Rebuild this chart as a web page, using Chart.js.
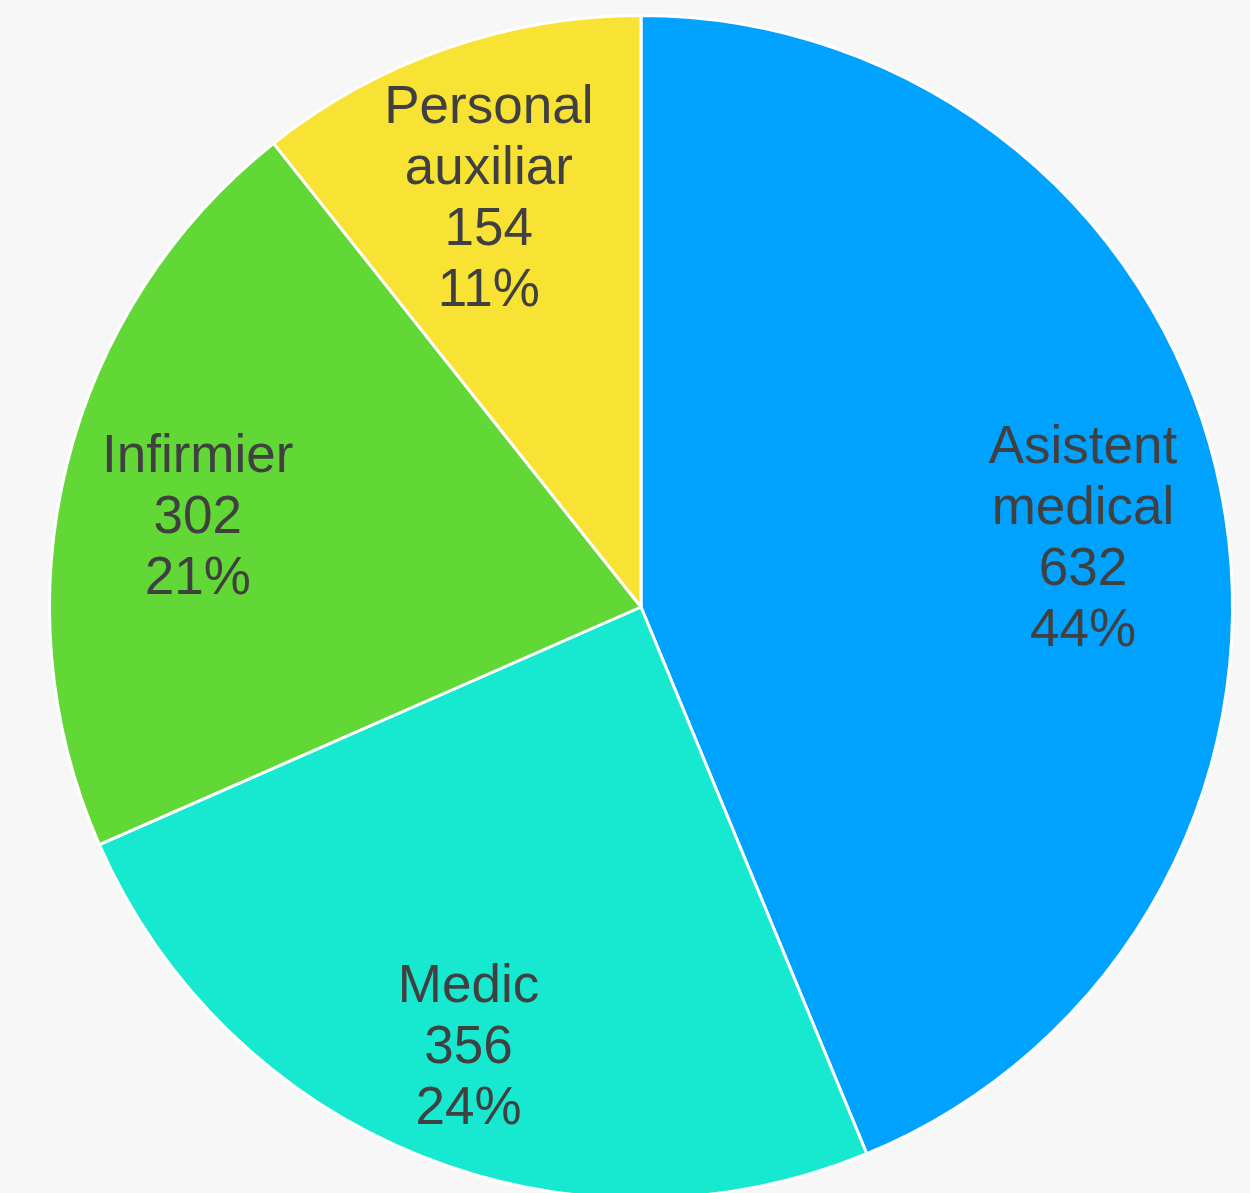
<!DOCTYPE html>
<html>
<head>
<meta charset="utf-8">
<script src="https://cdn.jsdelivr.net/npm/chart.js@4"></script>
<style>
  html, body { margin: 0; padding: 0; background: #f7f7f7; overflow: hidden; }
  #wrap { width: 1250px; height: 1200px; }
</style>
</head>
<body>
<div id="wrap"><canvas id="pieChart"></canvas></div>
<script>
var labels = [['Asistent', 'medical'], ['Medic'], ['Infirmier'], ['Personal', 'auxiliar']];
var values = [632, 356, 302, 154];
var percents = ['44%', '24%', '21%', '11%'];
var colors = ['rgb(0, 162, 255)', 'rgb(23, 232, 208)', 'rgb(97, 216, 54)', 'rgb(248, 226, 51)'];

// draws the name / value / percent inside each slice
var sliceLabels = {
  id: 'sliceLabels',
  afterDatasetsDraw: function(chart) {
    var ctx = chart.ctx;
    var meta = chart.getDatasetMeta(0);
    ctx.save();
    ctx.font = '53px "Liberation Sans", Arial, sans-serif';
    ctx.fillStyle = '#404040';
    ctx.textAlign = 'center';
    ctx.textBaseline = 'middle';
    meta.data.forEach(function(arc, i) {
      var mid = (arc.startAngle + arc.endAngle) / 2;
      var r = arc.outerRadius * 0.767;
      var x = arc.x + Math.cos(mid) * r - 3;
      var y = arc.y + Math.sin(mid) * r + 21;
      var lines = labels[i].concat([String(values[i]), percents[i]]);
      var lh = 61;
      var top = y - (lines.length - 1) * lh / 2;
      lines.forEach(function(t, j) {
        ctx.fillText(t, x, top + j * lh);
      });
    });
    ctx.restore();
  }
};

var pieChart = document.getElementById('pieChart').getContext('2d');
var chart = new Chart(pieChart, {
    type: 'pie',
    data: {
        labels: labels.map(function(l) { return l.join(' '); }),
        datasets: [{
            data: values,
            backgroundColor: colors,
            borderColor: '#ffffff',
            borderWidth: 3
        }]
    },
    options: {
      responsive: true,
      maintainAspectRatio: false,
      animation: false,
      layout: { padding: { left: 48, right: 16, top: 14, bottom: 0 } },
      plugins: {
        legend: { display: false },
        tooltip: { enabled: false }
      }
    },
    plugins: [sliceLabels]
});
</script>
</body>
</html>
